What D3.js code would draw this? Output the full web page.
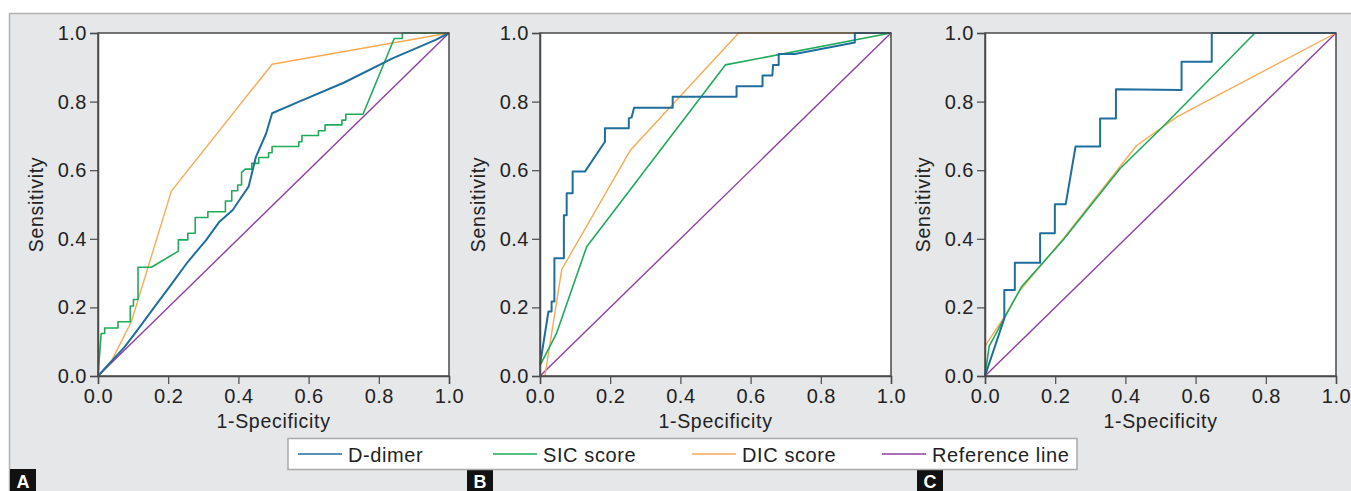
<!DOCTYPE html>
<html>
<head>
<meta charset="utf-8">
<script src="https://cdn.jsdelivr.net/npm/d3@7"></script>
<style>
  body { margin: 0; background: #fff; }
  svg text { font-family: "Liberation Sans", Arial, sans-serif; fill: #222; }
</style>
</head>
<body>
<svg width="1351" height="491"></svg>
<script>
// ---- data (1-specificity, sensitivity) ----
const seriesNames = ["D-dimer", "SIC score", "DIC score", "Reference line"];
const panelLetters = ["A", "B", "C"];
const tickValues = [0, 0.2, 0.4, 0.6, 0.8, 1.0];

const dDimerA = [[0,0],[0.04,0.045],[0.076,0.085],[0.116,0.139],[0.16,0.2],[0.211,0.27],[0.256,0.333],[0.308,0.396],[0.346,0.45],[0.384,0.484],[0.403,0.513],[0.429,0.552],[0.45,0.639],[0.479,0.707],[0.496,0.766],[0.573,0.8],[0.7,0.855],[0.839,0.926],[0.962,0.98],[1,1]];
const sicA = [[0,0],[0.009,0.124],[0.019,0.124],[0.019,0.14],[0.057,0.14],[0.057,0.158],[0.092,0.158],[0.092,0.204],[0.101,0.204],[0.101,0.223],[0.114,0.223],[0.114,0.317],[0.152,0.317],[0.229,0.364],[0.229,0.397],[0.256,0.397],[0.256,0.416],[0.277,0.416],[0.277,0.462],[0.313,0.462],[0.313,0.479],[0.363,0.479],[0.363,0.51],[0.381,0.51],[0.381,0.54],[0.398,0.54],[0.398,0.557],[0.409,0.557],[0.409,0.593],[0.419,0.603],[0.438,0.603],[0.438,0.62],[0.458,0.62],[0.458,0.637],[0.486,0.637],[0.486,0.651],[0.496,0.651],[0.496,0.669],[0.572,0.669],[0.572,0.683],[0.581,0.683],[0.581,0.701],[0.628,0.701],[0.628,0.715],[0.647,0.715],[0.647,0.732],[0.695,0.732],[0.695,0.746],[0.706,0.746],[0.706,0.763],[0.755,0.763],[0.844,0.984],[0.867,0.984],[0.867,1],[1,1]];
const dicA = [[0,0],[0.04,0.047],[0.095,0.158],[0.209,0.539],[0.496,0.909],[1,1]];
const refA = [[0,0],[1,1]];

const dDimerB = [[0,0.032],[0.024,0.188],[0.033,0.188],[0.033,0.217],[0.041,0.217],[0.041,0.343],[0.068,0.343],[0.068,0.469],[0.076,0.469],[0.076,0.533],[0.093,0.533],[0.093,0.596],[0.128,0.596],[0.185,0.683],[0.185,0.722],[0.253,0.722],[0.253,0.751],[0.261,0.754],[0.268,0.782],[0.378,0.782],[0.378,0.814],[0.56,0.814],[0.56,0.845],[0.634,0.845],[0.634,0.876],[0.662,0.876],[0.664,0.907],[0.68,0.907],[0.68,0.939],[0.726,0.939],[0.897,0.972],[0.897,1],[1,1]];
const sicB = [[0,0.03],[0.047,0.124],[0.133,0.377],[0.528,0.907],[1,1]];
const dicB = [[0.014,0],[0.062,0.311],[0.258,0.659],[0.566,1],[1,1]];
const refB = [[0,0],[1,1]];

const dDimerC = [[0,0],[0.055,0.168],[0.055,0.251],[0.085,0.251],[0.085,0.33],[0.157,0.33],[0.157,0.416],[0.199,0.416],[0.199,0.501],[0.23,0.501],[0.258,0.669],[0.328,0.669],[0.328,0.751],[0.373,0.751],[0.373,0.836],[0.56,0.834],[0.56,0.916],[0.646,0.916],[0.646,1],[1,1]];
const sicC = [[0,0],[0.012,0.087],[0.052,0.163],[0.104,0.26],[0.223,0.397],[0.385,0.605],[0.508,0.728],[0.769,1],[1,1]];
const dicC = [[0,0.087],[0.052,0.168],[0.1,0.25],[0.223,0.4],[0.432,0.672],[0.548,0.756],[1,1]];
const refC = [[0,0],[1,1]];

// ---- styles ----
const colors = ["#1f6e9d", "#1fab5a", "#f8aa52", "#8d3fa2"];
const widths = [2, 1.6, 1.4, 1.4];

const svg = d3.select("svg");

// grey backdrop
svg.append("rect").attr("x", 9).attr("y", 13).attr("width", 1342).attr("height", 478).attr("fill", "#e6e7e9");
svg.append("path").attr("d", "M9.5,491V13.5H1351").attr("fill", "none").attr("stroke", "#b2b2b2").attr("stroke-width", 1.5);

const panels = [
  { left: 98, series: [dDimerA, sicA, dicA, refA], letterX: 10 },
  { left: 540, series: [dDimerB, sicB, dicB, refB], letterX: 467 },
  { left: 985, series: [dDimerC, sicC, dicC, refC], letterX: 917 }
];
const plotW = 351, plotTop = 33, plotBottom = 376;

panels.forEach((p, i) => {
  const x = d3.scaleLinear().domain([0, 1]).range([p.left, p.left + plotW]);
  const y = d3.scaleLinear().domain([0, 1]).range([plotBottom, plotTop]);

  svg.append("rect")
    .attr("x", p.left).attr("y", plotTop)
    .attr("width", plotW).attr("height", plotBottom - plotTop)
    .attr("fill", "#fff");

  const line = d3.line().x(d => x(d[0])).y(d => y(d[1]));

  // draw in reverse so D-dimer sits on top
  [3, 2, 1, 0].forEach(k => {
    svg.append("path")
      .datum(p.series[k])
      .attr("d", line)
      .attr("fill", "none")
      .attr("stroke", colors[k])
      .attr("stroke-width", widths[k])
      .attr("stroke-linejoin", "round");
  });

  // frame
  svg.append("rect")
    .attr("x", p.left).attr("y", plotTop)
    .attr("width", plotW).attr("height", plotBottom - plotTop)
    .attr("fill", "none").attr("stroke", "#4a4a4a").attr("stroke-width", 1.5);

  const fmt = d3.format(".1f");
  const xAxis = svg.append("g")
    .attr("transform", `translate(0,${plotBottom})`)
    .call(d3.axisBottom(x).tickValues(tickValues).tickFormat(fmt).tickSize(8).tickPadding(5));
  const yAxis = svg.append("g")
    .attr("transform", `translate(${p.left},0)`)
    .call(d3.axisLeft(y).tickValues(tickValues).tickFormat(fmt).tickSize(8).tickPadding(3));
  [xAxis, yAxis].forEach(g => {
    g.select(".domain").attr("stroke", "#4a4a4a").attr("stroke-width", 1.5);
    g.selectAll(".tick line").attr("stroke", "#4a4a4a").attr("stroke-width", 1.2);
    g.selectAll(".tick text")
      .attr("fill", "#222")
      .style("font-size", "20px")
      .style("letter-spacing", "0.5px")
      .style("font-family", "'Liberation Sans', Arial, sans-serif");
  });

  svg.append("text")
    .attr("x", p.left + plotW / 2)
    .attr("y", 428)
    .attr("text-anchor", "middle")
    .style("font-size", "19.5px")
    .style("letter-spacing", "0.7px")
    .text("1-Specificity");

  svg.append("text")
    .attr("transform", `translate(${p.left - 55},${(plotTop + plotBottom) / 2}) rotate(-90)`)
    .attr("text-anchor", "middle")
    .style("font-size", "19.5px")
    .style("letter-spacing", "0.7px")
    .text("Sensitivity");

  // panel letter
  svg.append("rect")
    .attr("x", p.letterX).attr("y", 469)
    .attr("width", 26).attr("height", 22)
    .attr("fill", "#111");
  svg.append("text")
    .attr("x", p.letterX + 13).attr("y", 488)
    .attr("text-anchor", "middle")
    .style("font-size", "18px")
    .style("font-weight", "bold")
    .style("fill", "#fff")
    .text(panelLetters[i]);
});

// legend
const legend = svg.append("g");
legend.append("rect")
  .attr("x", 288).attr("y", 438.5)
  .attr("width", 789).attr("height", 31)
  .attr("fill", "#fff").attr("stroke", "#a9a9a9").attr("stroke-width", 1.5);
const legendX = [298, 493, 692, 882];
seriesNames.forEach((name, k) => {
  legend.append("line")
    .attr("x1", legendX[k]).attr("x2", legendX[k] + 44)
    .attr("y1", 454).attr("y2", 454)
    .attr("stroke", colors[k]).attr("stroke-width", 1.6);
  legend.append("text")
    .attr("x", legendX[k] + 50).attr("y", 462)
    .style("font-size", "20px")
    .style("letter-spacing", "0.6px")
    .text(name);
});
</script>
</body>
</html>
